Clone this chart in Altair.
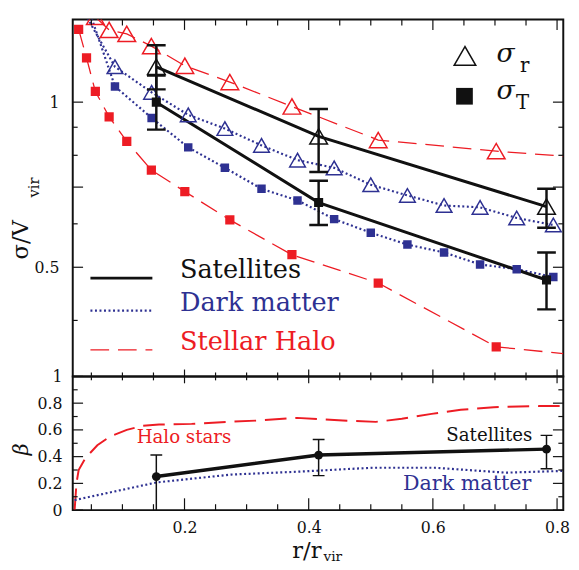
import altair as alt
import pandas as pd

RED = "#ed1c24"
BLUE = "#2e3192"
BLACK = "#111111"
FONT = "DejaVu Serif"

W, H_TOP, H_BOT = 499, 363, 136

# ---- velocity dispersion profiles (sigma / V_vir) ----
# stellar halo, tangential (squares) and radial (triangles)
r_star = [0.0295, 0.0422, 0.0564, 0.0786, 0.107, 0.1466, 0.2005, 0.273, 0.373, 0.512, 0.702]
star_sig_t = [1.357, 1.204, 1.046, 0.940, 0.848, 0.752, 0.687, 0.610, 0.527, 0.468, 0.358]
r_star_r = [0.0564, 0.0786, 0.107, 0.1466, 0.2005, 0.273, 0.373, 0.512, 0.702]
star_sig_r = [1.43, 1.354, 1.332, 1.265, 1.165, 1.088, 0.982, 0.853, 0.814]
# outer end of the stellar-halo curves
r_outer = [0.81]
star_sig_t_outer = [0.348]
star_sig_r_outer = [0.797]

# dark matter
r_dm = [0.088, 0.147, 0.206, 0.265, 0.324, 0.382, 0.441, 0.500, 0.559, 0.618, 0.676, 0.735, 0.794]
dm_sig_r = [1.160, 1.042, 0.948, 0.895, 0.834, 0.784, 0.759, 0.707, 0.676, 0.648, 0.643, 0.615, 0.597]
dm_sig_t = [1.068, 0.936, 0.827, 0.759, 0.695, 0.662, 0.612, 0.578, 0.550, 0.532, 0.506, 0.496, 0.480]
# innermost bin of the dark-matter curves
r_dm_inner = [0.0294]
dm_sig_r_inner = [1.52]
dm_sig_t_inner = [1.67]

# satellites with error bars
r_sat = [0.1546, 0.416, 0.783]
sat_sig_r = [1.160, 0.866, 0.645]
sat_sig_r_lo = [1.055, 0.746, 0.590]
sat_sig_r_hi = [1.270, 0.972, 0.695]
sat_sig_t = [1.000, 0.656, 0.474]
sat_sig_t_lo = [0.891, 0.597, 0.419]
sat_sig_t_hi = [1.118, 0.719, 0.532]

# ---- velocity anisotropy beta ----
r_beta_star = [0.023, 0.026, 0.0295, 0.0406, 0.0596, 0.080, 0.107, 0.132, 0.159, 0.2115,
               0.270, 0.318, 0.381, 0.455, 0.508, 0.550, 0.598, 0.645, 0.698, 0.772, 0.808]
beta_star = [0.0, 0.20, 0.30, 0.39, 0.485, 0.55, 0.60, 0.63, 0.64, 0.645,
             0.66, 0.67, 0.69, 0.67, 0.66, 0.683, 0.72, 0.75, 0.77, 0.778, 0.778]
r_beta_dm = [0.023, 0.155, 0.275, 0.381, 0.503, 0.603, 0.718, 0.808]
beta_dm = [0.075, 0.207, 0.266, 0.287, 0.317, 0.317, 0.280, 0.293]
sat_beta = [0.251, 0.412, 0.456]
sat_beta_lo = [-0.08, 0.258, 0.310]
sat_beta_hi = [0.412, 0.529, 0.559]

# ---- tick positions ----
x_major = [0.2, 0.4, 0.6, 0.8]
x_minor = [0.05, 0.1, 0.15, 0.25, 0.3, 0.35, 0.45, 0.5, 0.55, 0.65, 0.7, 0.75]
sig_labels = [0.5, 1.0]
sig_major = [0.5, 0.7, 1.0]
sig_minor = [0.4, 0.6, 0.8, 0.9]
beta_major = [0.0, 0.2, 0.4, 0.6, 0.8, 1.0]
beta_minor = [0.1, 0.3, 0.5, 0.7, 0.9]

X = alt.Scale(domain=[0.02, 0.81], nice=False, zero=False)
Y_SIG = alt.Scale(type="log", domain=[0.3162, 1.4142], nice=False)
Y_BETA = alt.Scale(domain=[0, 1], nice=False, zero=False)

# axes: labels only, the frame ticks are drawn as rules pointing inwards
SIG_AXIS = alt.Axis(values=sig_labels, format=".1~f", labelPadding=14)
BETA_AXIS = alt.Axis(values=beta_major, format=".1~f", labelPadding=11)
R_AXIS = alt.Axis(values=x_major, format=".1f", labelPadding=10)

PANELS = {
    "sig": dict(scale=Y_SIG, yaxis=SIG_AXIS, xaxis=None),
    "beta": dict(scale=Y_BETA, yaxis=BETA_AXIS, xaxis=R_AXIS),
}


def frame(x, y, **extra):
    d = {"r": x, "v": y}
    d.update(extra)
    return pd.DataFrame(d)


def xenc(p):
    return alt.X("r:Q", scale=X, axis=PANELS[p]["xaxis"], title=None)


def yenc(p, field="v"):
    return alt.Y(f"{field}:Q", scale=PANELS[p]["scale"], axis=PANELS[p]["yaxis"], title=None)


def line(df, p, color, width, dash=None):
    kw = dict(color=color, strokeWidth=width, clip=True, strokeCap="butt")
    if dash:
        kw["strokeDash"] = dash
    return alt.Chart(df).mark_line(**kw).encode(x=xenc(p), y=yenc(p))


def points(df, p, shape, color, size, filled, sw=1.5):
    if filled:
        m = alt.Chart(df).mark_point(shape=shape, filled=True, color=color, size=size,
                                     opacity=1, clip=True)
    else:
        m = alt.Chart(df).mark_point(shape=shape, filled=False, color=color, size=size,
                                     strokeWidth=sw, opacity=1, clip=True)
    return m.encode(x=xenc(p), y=yenc(p))


def errbars(df, p, width, cap, capw):
    bar = alt.Chart(df).mark_rule(color=BLACK, strokeWidth=width, clip=True).encode(
        x=xenc(p), y=yenc(p, "lo"), y2="hi:Q")
    lo = alt.Chart(df).mark_tick(orient="horizontal", size=cap, thickness=capw, color=BLACK,
                                 opacity=1, clip=True).encode(x=xenc(p), y=yenc(p, "lo"))
    hi = alt.Chart(df).mark_tick(orient="horizontal", size=cap, thickness=capw, color=BLACK,
                                 opacity=1, clip=True).encode(x=xenc(p), y=yenc(p, "hi"))
    return [bar, lo, hi]


def xticks(vals, p, y0, y1):
    return alt.Chart(pd.DataFrame({"r": vals})).mark_rule(color=BLACK, strokeWidth=1.2).encode(
        x=xenc(p), y=alt.value(y0), y2=alt.value(y1))


def yticks(vals, p, x0, x1):
    return alt.Chart(pd.DataFrame({"v": vals})).mark_rule(color=BLACK, strokeWidth=1.2).encode(
        y=yenc(p), x=alt.value(x0), x2=alt.value(x1))


def label(text, x, y, color, size, align="left", baseline="alphabetic", angle=None,
          style="normal"):
    kw = dict(align=align, baseline=baseline, font=FONT, fontSize=size, color=color,
              fontStyle=style)
    if angle is not None:
        kw["angle"] = angle
    return alt.Chart(pd.DataFrame({"t": [text]})).mark_text(**kw).encode(
        text="t:N", x=alt.value(x), y=alt.value(y))


def sample(color, width, y, dash=None):
    kw = dict(color=color, strokeWidth=width, strokeCap="butt")
    if dash:
        kw["strokeDash"] = dash
    return alt.Chart(pd.DataFrame({"k": [0]})).mark_rule(**kw).encode(
        x=alt.value(18), x2=alt.value(81), y=alt.value(y))


def glyph(shape, x, y, size, filled):
    df = pd.DataFrame({"k": [0]})
    if filled:
        m = alt.Chart(df).mark_point(shape=shape, filled=True, color=BLACK, size=size, opacity=1)
    else:
        m = alt.Chart(df).mark_point(shape=shape, filled=False, color=BLACK, size=size,
                                     strokeWidth=1.5, opacity=1)
    return m.encode(x=alt.value(x), y=alt.value(y))


def anchor():
    # keeps the left margin of both panels identical
    return alt.Chart(pd.DataFrame({"k": [0]})).mark_rule(color="white", strokeWidth=0.5).encode(
        x=alt.value(-72), x2=alt.value(-72), y=alt.value(20), y2=alt.value(22))


# ---------------- upper panel: sigma / V_vir ----------------
star_t = frame(r_star + r_outer, star_sig_t + star_sig_t_outer)
star_r = frame(r_star_r + r_outer, star_sig_r + star_sig_r_outer)
dm_r_line = frame(r_dm_inner + r_dm, dm_sig_r_inner + dm_sig_r)
dm_t_line = frame(r_dm_inner + r_dm, dm_sig_t_inner + dm_sig_t)
sat_r = frame(r_sat, sat_sig_r, lo=sat_sig_r_lo, hi=sat_sig_r_hi)
sat_t = frame(r_sat, sat_sig_t, lo=sat_sig_t_lo, hi=sat_sig_t_hi)

top_layers = [
    line(star_t, "sig", RED, 1.3, [19, 9]),
    line(star_r, "sig", RED, 1.3, [19, 9]),
    line(dm_r_line, "sig", BLUE, 2.2, [2, 2.6]),
    line(dm_t_line, "sig", BLUE, 2.2, [2, 2.6]),
    line(sat_r, "sig", BLACK, 3),
    line(sat_t, "sig", BLACK, 3),
    points(frame(r_star, star_sig_t), "sig", "square", RED, 88, True),
    points(frame(r_star_r, star_sig_r), "sig", "triangle-up", RED, 324, False),
    points(frame(r_dm, dm_sig_t), "sig", "square", BLUE, 74, True),
    points(frame(r_dm, dm_sig_r), "sig", "triangle-up", BLUE, 256, False),
    *errbars(sat_r, "sig", 2.5, 19, 2.5),
    *errbars(sat_t, "sig", 2.5, 19, 2.5),
    points(sat_r, "sig", "triangle-up", BLACK, 324, False),
    points(sat_t, "sig", "square", BLACK, 85, True),
    # frame ticks
    xticks(x_major, "sig", 0, 10.5), xticks(x_minor, "sig", 0, 6),
    xticks(x_major, "sig", H_TOP, H_TOP - 7), xticks(x_minor, "sig", H_TOP, H_TOP - 4),
    yticks(sig_major, "sig", 0, 10.5), yticks(sig_minor, "sig", 0, 5),
    yticks(sig_major, "sig", W, W - 10.5), yticks(sig_minor, "sig", W, W - 5),
    anchor(),
    # line legend
    sample(BLACK, 3, 263),
    sample(BLUE, 2.2, 296, [2, 2.6]),
    sample(RED, 1.5, 336, [19, 9]),
    label("Satellites", 109, 263, BLACK, 26),
    label("Dark matter", 109, 296, BLUE, 26),
    label("Stellar Halo", 109, 336, RED, 26),
    # symbol legend
    glyph("triangle-up", 399, 37, 484, False),
    glyph("square", 398.5, 78, 289, True),
    label("σ", 431, 43, BLACK, 27, style="italic"),
    label("r", 455, 53, BLACK, 20),
    label("σ", 431, 81, BLACK, 27, style="italic"),
    label("T", 451, 91, BLACK, 20),
    # axis title
    label("σ/V", -46, 244, BLACK, 23, angle=270),
    label("vir", -34, 181, BLACK, 15, angle=270),
]
top = alt.layer(*top_layers).properties(width=W, height=H_TOP)

# ---------------- lower panel: beta ----------------
sat_b = frame(r_sat, sat_beta, lo=sat_beta_lo, hi=sat_beta_hi)

bot_layers = [
    line(frame(r_beta_star, beta_star), "beta", RED, 2, [22, 9]),
    line(frame(r_beta_dm, beta_dm), "beta", BLUE, 2.2, [2, 2.6]),
    *errbars(sat_b, "beta", 1.5, 12, 1.5),
    line(sat_b, "beta", BLACK, 3.5),
    alt.Chart(sat_b).mark_circle(color=BLACK, size=80, opacity=1).encode(
        x=xenc("beta"), y=yenc("beta")),
    xticks(x_major, "beta", 0, 7), xticks(x_minor, "beta", 0, 4),
    xticks(x_major, "beta", H_BOT, H_BOT - 12), xticks(x_minor, "beta", H_BOT, H_BOT - 6),
    yticks(beta_major, "beta", 0, 10.5), yticks(beta_minor, "beta", 0, 5),
    yticks(beta_major, "beta", W, W - 10.5), yticks(beta_minor, "beta", W, W - 5),
    anchor(),
    label("Halo stars", 65, 68, RED, 18.5),
    label("Satellites", 380, 66, BLACK, 18.5),
    label("Dark matter", 336, 116, BLUE, 21),
    label("β", -46, 74, BLACK, 21, align="center", angle=270, style="italic"),
    label("r/r", 253, 185, BLACK, 23, align="right"),
    label("vir", 255, 188, BLACK, 14),
]
bottom = alt.layer(*bot_layers).properties(width=W, height=H_BOT)

chart = (
    alt.vconcat(top, bottom, spacing=0, bounds="flush")
    .properties(padding={"left": 0, "top": 13, "right": 8, "bottom": 0})
    .configure_view(stroke=BLACK, strokeWidth=2)
    .configure_axis(labelFont=FONT, labelFontSize=16, labelColor=BLACK, ticks=False,
                    tickSize=0, domain=False, grid=False)
)

chart.save("out.html", embed_options={"renderer": "svg", "actions": False})
